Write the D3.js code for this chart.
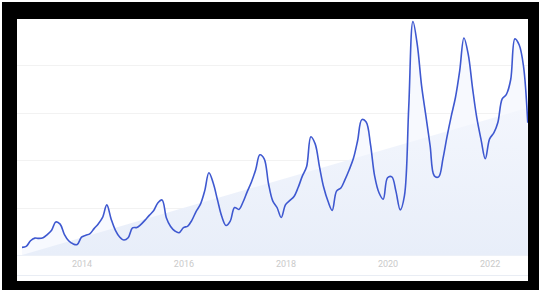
<!DOCTYPE html>
<html>
<head>
<meta charset="utf-8">
<script src="https://cdn.jsdelivr.net/npm/d3@7"></script>
<style>
  html, body { margin: 0; padding: 0; background: #fff; }
  svg { display: block; }
</style>
</head>
<body>
<svg id="chart" width="539" height="290"></svg>
<script>
// ---- data ----
const startMonth = "2012-11";   // first monthly point
const values = [
  3.2, 3.6, 6.0, 7.1, 7.0, 7.3, 8.6, 10.4, 13.9, 13.0,
  8.6, 6.0, 4.7, 4.4, 7.5, 8.3, 8.9, 11.1, 13.1, 15.8,
  21.1, 15.2, 10.4, 7.6, 6.3, 7.3, 11.4, 11.6, 12.8, 14.7,
  16.7, 18.6, 21.9, 23.2, 15.6, 12.0, 10.1, 9.4, 11.5, 12.2,
  14.6, 18.4, 21.3, 27.0, 34.6, 30.3, 23.1, 16.3, 12.4, 14.3,
  20.0, 19.2, 22.1, 26.6, 30.6, 35.9, 42.2, 40.5, 30.0, 22.8,
  20.0, 15.8, 21.2, 23.0, 24.5, 28.4, 33.2, 37.3, 49.8, 46.8,
  37.1, 28.5, 22.6, 18.8, 26.9, 28.2, 31.5, 35.8, 40.5, 48.2,
  57.0, 56.0, 46.6, 33.2, 26.2, 23.5, 32.5, 32.9, 26.9, 19.0,
  24.9, 62.4, 98.3, 88.6, 71.2, 58.9, 46.0, 33.3, 32.9, 40.6,
  49.5, 58.4, 66.2, 77.6, 91.4, 84.5, 70.2, 57.8, 48.5, 40.5,
  48.9, 51.5, 55.8, 65.7, 67.6, 73.9, 91.0, 88.4, 79.3, 55.7
];
const trendDates = ["2012-11", "2022-10"];
const trendValues = [0, 62];
const tickYears = ["2014", "2016", "2018", "2020", "2022"];
const gridValues = [20, 40, 60, 80, 100];

// ---- setup ----
const svg = d3.select("#chart");
const W = 539, H = 290;
const parseMonth = d3.timeParse("%Y-%m");
const start = parseMonth(startMonth);
const dates = values.map((_, i) => d3.timeMonth.offset(start, i));
const series = values.map((v, i) => ({ date: dates[i], value: v }));
const trend = trendDates.map((d, i) => ({ date: parseMonth(d), value: trendValues[i] }));

const inner = { x0: 17, y0: 19, x1: 528, y1: 281 };
const x = d3.scaleTime()
  .domain([dates[0], dates[dates.length - 1]])
  .range([22, 527.75]);
const y = d3.scaleLinear().domain([0, 100]).range([255, 17.5]);

// frame
svg.append("rect").attr("x", 0).attr("y", 0).attr("width", W).attr("height", H).attr("fill", "#fff");
svg.append("rect").attr("x", 2).attr("y", 2).attr("width", W - 2).attr("height", H - 2).attr("fill", "#000");
svg.append("rect").attr("x", inner.x0).attr("y", inner.y0)
  .attr("width", inner.x1 - inner.x0).attr("height", inner.y1 - inner.y0).attr("fill", "#fff");

const defs = svg.append("defs");
defs.append("clipPath").attr("id", "clip").append("rect")
  .attr("x", inner.x0).attr("y", inner.y0)
  .attr("width", inner.x1 - inner.x0).attr("height", inner.y1 - inner.y0);
const grad = defs.append("linearGradient").attr("id", "trendGrad")
  .attr("x1", 0).attr("y1", 0).attr("x2", 0).attr("y2", 1);
grad.append("stop").attr("offset", "0%").attr("stop-color", "#f3f6fd");
grad.append("stop").attr("offset", "100%").attr("stop-color", "#e8eef9");

const g = svg.append("g").attr("clip-path", "url(#clip)");

// grid
g.selectAll("line.grid").data(gridValues).join("line")
  .attr("class", "grid")
  .attr("x1", inner.x0).attr("x2", inner.x1)
  .attr("y1", d => Math.round(y(d)) + 0.5).attr("y2", d => Math.round(y(d)) + 0.5)
  .attr("stroke", "#f2f2f2").attr("stroke-width", 1);

const curve = d3.curveCatmullRom.alpha(0.5);

// faint area under the series
g.append("path").datum(series)
  .attr("d", d3.area().x(d => x(d.date)).y0(y(0)).y1(d => y(d.value)).curve(curve))
  .attr("fill", "#f7f9fe");

// trend area
g.append("path").datum(trend)
  .attr("d", d3.area().x(d => x(d.date)).y0(y(0)).y1(d => y(d.value)))
  .attr("fill", "url(#trendGrad)");

// baseline & bottom line
g.append("line").attr("x1", inner.x0).attr("x2", inner.x1)
  .attr("y1", y(0) + 0.5).attr("y2", y(0) + 0.5).attr("stroke", "#edf1f8");
g.append("line").attr("x1", inner.x0).attr("x2", inner.x1)
  .attr("y1", 275.5).attr("y2", 275.5).attr("stroke", "#e9edf4");

// series line
g.append("path").datum(series)
  .attr("d", d3.line().x(d => x(d.date)).y(d => y(d.value)).curve(curve))
  .attr("fill", "none").attr("stroke", "#3e58d0").attr("stroke-width", 1.6)
  .attr("stroke-linejoin", "round");

// x axis labels
const xAxis = d3.axisBottom(x)
  .tickValues(tickYears.map(t => d3.timeParse("%Y")(t)))
  .tickFormat(d3.timeFormat("%Y"))
  .tickSize(0).tickPadding(0);
const ax = svg.append("g").attr("transform", "translate(0,261)").call(xAxis);
ax.select(".domain").remove();
ax.selectAll("text")
  .attr("font-family", "Roboto, 'Open Sans', sans-serif")
  .attr("font-size", 9).attr("fill", "#cacaca");
</script>
</body>
</html>
